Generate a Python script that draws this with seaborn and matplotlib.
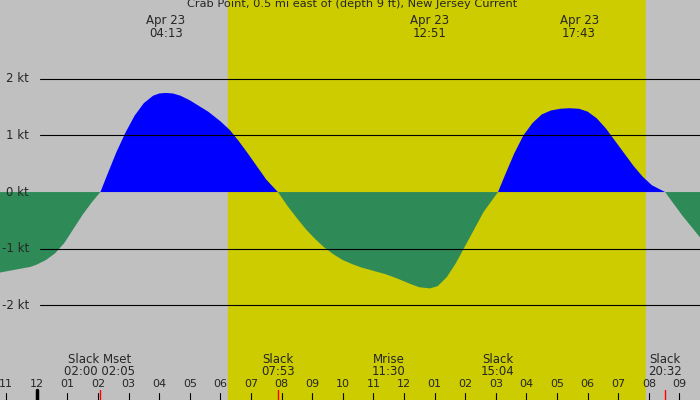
import matplotlib
matplotlib.use("Agg")
import matplotlib.pyplot as plt
import seaborn as sns
import numpy as np

sns.set_style("white")
plt.rcParams['font.family'] = ['DejaVu Sans']

# current curve (hour of day, knots)
hours = [-1.2, -0.8, -0.5, -0.2, 0, 0.3, 0.6, 0.9, 1.2, 1.5, 1.8, 2.08, 2.3, 2.6, 2.9, 3.2,
         3.5, 3.8, 4.0, 4.22, 4.45, 4.7, 5.0, 5.3, 5.6, 6.0, 6.3, 6.6, 6.9, 7.2, 7.5, 7.88,
         8.2, 8.5, 8.8, 9.1, 9.4, 9.7, 10.0, 10.3, 10.6, 11.0, 11.4, 11.8, 12.2, 12.5, 12.85,
         13.1, 13.4, 13.7, 14.0, 14.3, 14.6, 15.07, 15.3, 15.6, 15.9, 16.2, 16.5, 16.8,
         17.1, 17.4, 17.72, 18.0, 18.3, 18.6, 18.9, 19.2, 19.5, 19.8, 20.1, 20.53, 20.8,
         21.1, 21.4, 21.7]
knots = [-1.42, -1.38, -1.35, -1.32, -1.28, -1.2, -1.08, -0.9, -0.65, -0.4, -0.18, 0,
         0.3, 0.7, 1.05, 1.35, 1.57, 1.7, 1.74, 1.75, 1.74, 1.7, 1.62, 1.52, 1.42, 1.25,
         1.1, 0.9, 0.68, 0.45, 0.22, 0, -0.25, -0.46, -0.66, -0.83, -0.98, -1.1, -1.2,
         -1.27, -1.33, -1.39, -1.45, -1.53, -1.62, -1.68, -1.7, -1.66, -1.5, -1.25, -0.95,
         -0.65, -0.35, 0, 0.3, 0.68, 1.0, 1.22, 1.37, 1.44, 1.47, 1.48, 1.47, 1.42, 1.3,
         1.12, 0.9, 0.68, 0.46, 0.27, 0.12, 0, -0.2, -0.42, -0.62, -0.82]

sunrise, sunset = 6.24, 19.9
kt_levels = [2, 1, 0, -1, -2]
top_hours = [4.22, 12.85, 17.72]
top_times = ["04:13", "12:51", "17:43"]
ev_pos = [2.05, 7.88, 11.5, 15.07, 20.53]
ev_names = ["Slack Mset", "Slack", "Mrise", "Slack", "Slack"]
ev_times = ["02:00 02:05", "07:53", "11:30", "15:04", "20:32"]
hour_ticks = list(range(-1, 22))
hour_labels = ["%02d" % (((h - 1) % 12) + 1) for h in hour_ticks]

fig = plt.figure(figsize=(7, 4), dpi=100)
ax = fig.add_axes([0, 0, 1, 1])
ax.set_xlim(-1.2, 21.67)
ax.set_ylim(-3.67, 3.39)
ax.axis("off")

ax.axvspan(-1.2, sunrise, color="#c0c0c0", zorder=0)
ax.axvspan(sunrise, sunset, color="#cccc00", zorder=0)
ax.axvspan(sunset, 21.67, color="#c0c0c0", zorder=0)

x = np.array(hours)
y = np.array(knots)
ax.fill_between(x, 0, np.clip(y, 0, None), color="#0000ff", lw=0, zorder=1)
ax.fill_between(x, 0, np.clip(y, None, 0), color="#2e8b57", lw=0, zorder=1)

for k in kt_levels:
    if k != 0:
        ax.plot([0.1, 21.67], [k, k], color="black", lw=0.8, zorder=2)
    ax.text(-0.25, k, "%d kt" % k, ha="right", va="center", fontsize=8.5, zorder=3)

ax.text(10.3, 3.41, "Crab Point, 0.5 mi east of (depth 9 ft), New Jersey Current",
        ha="center", va="top", fontsize=8.2)
for h, t in zip(top_hours, top_times):
    ax.text(h, 3.02, "Apr 23", ha="center", va="center", fontsize=8.5)
    ax.text(h, 2.8, t, ha="center", va="center", fontsize=8.5)

for p, n, t in zip(ev_pos, ev_names, ev_times):
    ax.text(p, -2.95, n, ha="center", va="center", fontsize=8.5)
    ax.text(p, -3.16, t, ha="center", va="center", fontsize=8.5)

for h, lab in zip(hour_ticks, hour_labels):
    ax.text(h, -3.38, lab, ha="center", va="center", fontsize=8)
    ax.plot([h, h], [-3.55, -3.67], color="black", lw=0.8)
ax.plot([0, 0], [-3.5, -3.67], color="black", lw=2.5)
for h in [2.08, 7.88, 20.53]:
    ax.plot([h, h], [-3.5, -3.67], color="red", lw=1)

fig.savefig("out.png", dpi=100)
